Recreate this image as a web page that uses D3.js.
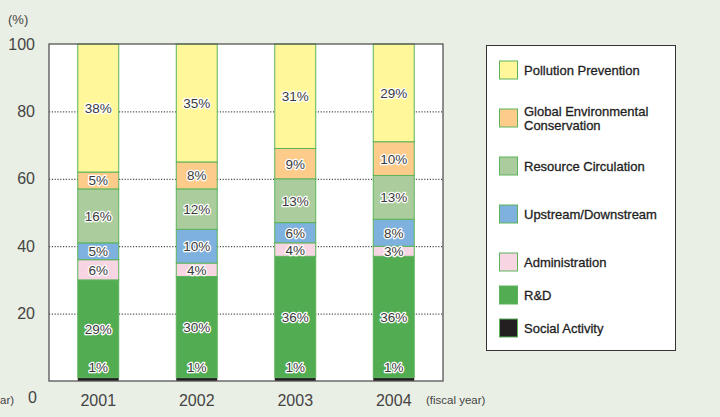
<!DOCTYPE html>
<html><head><meta charset="utf-8">
<script src="https://cdn.jsdelivr.net/npm/d3@7"></script>
<style>
html,body{margin:0;padding:0;background:#eaefe5;}
svg{display:block;font-family:"Liberation Sans",Arial,Helvetica,sans-serif;}
</style></head>
<body>
<svg id="chart" width="720" height="417"></svg>
<script>
const years = ["2001", "2002", "2003", "2004"];
const seriesNames = ["Social Activity", "R&D", "Administration", "Upstream/Downstream", "Resource Circulation", "Global Environmental Conservation", "Pollution Prevention"];
const socialActivity = [1, 1, 1, 1];
const rnd = [29, 30, 36, 36];
const administration = [6, 4, 4, 3];
const upstreamDownstream = [5, 10, 6, 8];
const resourceCirculation = [16, 12, 13, 13];
const globalEnv = [5, 8, 9, 10];
const pollutionPrevention = [38, 35, 31, 29];
const yTicks = [20, 40, 60, 80, 100];
const colors = ["#231f20", "#52ac52", "#f8d5e3", "#7eb1de", "#abcd9e", "#fdcb8a", "#fff79a"];
const legendOrder = ["Pollution Prevention", "Global Environmental Conservation", "Resource Circulation", "Upstream/Downstream", "Administration", "R&D", "Social Activity"];
const legendLines = {"Global Environmental Conservation": ["Global Environmental", "Conservation"]};

const seriesValues = [socialActivity, rnd, administration, upstreamDownstream, resourceCirculation, globalEnv, pollutionPrevention];
const rows = years.map((y, i) => {
  const o = {year: y};
  seriesNames.forEach((s, k) => o[s] = seriesValues[k][i]);
  return o;
});
const stacked = d3.stack().keys(seriesNames)(rows);

const svg = d3.select("#chart");
const L = 49, R = 443, T = 44, B = 381;
const x = d3.scaleBand().domain(years).range([L, R]).paddingInner(0.574).paddingOuter(0.287);
const y = d3.scaleLinear().domain([0, 100]).range([B, T]);
const color = d3.scaleOrdinal().domain(seriesNames).range(colors);

// plot background
svg.append("rect").attr("x", L).attr("y", T).attr("width", R - L).attr("height", B - T).attr("fill", "#fff");

// grid
svg.append("g").selectAll("line").data(yTicks.filter(t => t < 100)).join("line")
  .attr("x1", L).attr("x2", R).attr("y1", d => y(d) + 0.5).attr("y2", d => y(d) + 0.5)
  .attr("stroke", "#222").attr("stroke-width", 1).attr("stroke-dasharray", "1.2,1.6");

// bars
const g = svg.append("g");
stacked.forEach(layer => {
  g.append("g").selectAll("rect").data(layer).join("rect")
    .attr("x", d => x(d.data.year) + 0.5)
    .attr("y", d => y(d[1]))
    .attr("width", x.bandwidth() - 1)
    .attr("height", d => y(d[0]) - y(d[1]))
    .attr("fill", color(layer.key))
    .attr("stroke", layer.key === "Social Activity" ? "none" : "#5cb35a")
    .attr("stroke-width", 1);
});

// labels
const lab = svg.append("g").attr("font-size", 13.5).attr("text-anchor", "middle");
stacked.forEach(layer => {
  lab.selectAll(null).data(layer).join("text")
    .attr("x", d => x(d.data.year) + x.bandwidth() / 2)
    .attr("y", d => {
      if (layer.key === "Social Activity") return y(d[1]) - 6;
      return (y(d[0]) + y(d[1])) / 2 + 5;
    })
    .attr("fill", "#3a3a3a")
    .attr("stroke", "#fff").attr("stroke-width", 2.5).attr("stroke-linejoin", "round")
    .attr("paint-order", "stroke")
    .text(d => (d[1] - d[0]) + "%");
});

// frame
svg.append("rect").attr("x", L).attr("y", T).attr("width", R - L).attr("height", B - T)
  .attr("fill", "none").attr("stroke", "#555").attr("stroke-width", 1.3);

// y axis labels
const yAxis = d3.axisLeft(y).tickValues(yTicks).tickSize(0).tickPadding(14);
const ya = svg.append("g").attr("transform", `translate(${L},0)`).call(yAxis);
ya.select(".domain").remove();
ya.selectAll("text").attr("font-size", 16).attr("fill", "#444").attr("font-family", "Liberation Sans, Arial, sans-serif");
svg.append("text").attr("x", 37).attr("y", 403).attr("text-anchor", "end").attr("font-size", 16).attr("fill", "#444").text("0");
svg.append("text").attr("x", 8).attr("y", 24).attr("font-size", 13).attr("fill", "#444").text("(%)");

// x axis
const xAxis = d3.axisBottom(x).tickSize(0).tickPadding(14);
const xa = svg.append("g").attr("transform", `translate(0,${B})`).call(xAxis);
xa.select(".domain").remove();
xa.selectAll("text").attr("font-size", 16).attr("fill", "#444").attr("font-family", "Liberation Sans, Arial, sans-serif");
svg.append("text").attr("x", 426).attr("y", 404).attr("font-size", 11.5).attr("fill", "#444").text("(fiscal year)");
svg.append("text").attr("x", 0).attr("y", 404).attr("font-size", 11.5).attr("fill", "#444").text("ar)");

// legend
svg.append("rect").attr("x", 486.5).attr("y", 45.5).attr("width", 189).attr("height", 305)
  .attr("fill", "#fff").attr("stroke", "#333").attr("stroke-width", 1);
const legendCenters = {"Pollution Prevention": 70, "Global Environmental Conservation": 118, "Resource Circulation": 166, "Upstream/Downstream": 214, "Administration": 262, "R&D": 295, "Social Activity": 328};
const lg = svg.append("g");
legendOrder.forEach(name => {
  const cy = legendCenters[name];
  lg.append("rect").attr("x", 499.5).attr("y", cy - 9).attr("width", 18).attr("height", 18)
    .attr("fill", color(name)).attr("stroke", "#5cb35a").attr("stroke-width", 1);
  const lines = legendLines[name] || [name];
  const t = lg.append("text").attr("x", 524).attr("font-size", 13).attr("fill", "#1e1e1e")
    .attr("stroke", "#1e1e1e").attr("stroke-width", 0.3)
    .attr("font-family", "Liberation Sans, Arial, sans-serif");
  lines.forEach((ln, i) => {
    t.append("tspan").attr("x", 524).attr("y", cy + 4.5 - (lines.length - 1) * 7 + i * 14).text(ln);
  });
});
</script>
</body></html>
